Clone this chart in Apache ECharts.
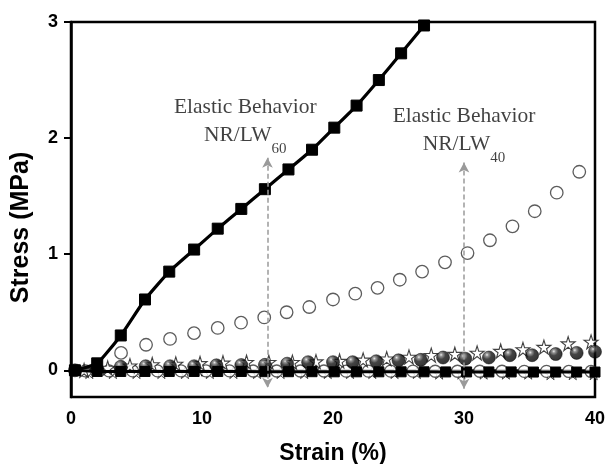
<!DOCTYPE html>
<html>
<head>
<meta charset="utf-8">
<script src="https://cdn.jsdelivr.net/npm/echarts@6/dist/echarts.min.js"></script>
<style>
  html, body { margin: 0; padding: 0; background: #fff; }
  #chart { width: 608px; height: 464px; }
</style>
</head>
<body>
<div id="chart"></div>
<script>
// ---- stress–strain data (strain in %, stress in MPa) ----
// NR/LW60: filled squares joined by a line
const sqRiseStrain = [0.3, 2.0, 3.8, 5.65, 7.5, 9.4, 11.2, 13.0, 14.8, 16.6, 18.4, 20.1, 21.8, 23.5, 25.2, 26.95];
const sqRiseStress = [0.0, 0.06, 0.30, 0.61, 0.85, 1.04, 1.22, 1.39, 1.56, 1.73, 1.90, 2.09, 2.28, 2.50, 2.73, 2.97];

// NR/LW40: open circles
const circRiseStrain = [3.82, 5.73, 7.56, 9.39, 11.2, 12.98, 14.75, 16.46, 18.19, 20.0, 21.7, 23.4, 25.1, 26.8, 28.55, 30.27, 31.98, 33.7, 35.4, 37.08, 38.8];
const circRiseStress = [0.15, 0.22, 0.27, 0.32, 0.365, 0.41, 0.455, 0.50, 0.545, 0.61, 0.66, 0.71, 0.78, 0.85, 0.93, 1.01, 1.12, 1.24, 1.37, 1.53, 1.71];

// shaded spheres
const ballStrain = [0.3, 2.0, 3.8, 5.7, 7.56, 9.4, 11.1, 13.0, 14.8, 16.5, 18.1, 20.0, 21.5, 23.3, 25.0, 26.7, 28.4, 30.1, 31.9, 33.5, 35.2, 37.0, 38.6, 40.0];
const ballStress = [0.0, 0.01, 0.03, 0.035, 0.035, 0.035, 0.043, 0.045, 0.047, 0.057, 0.07, 0.07, 0.07, 0.078, 0.086, 0.09, 0.11, 0.10, 0.11, 0.13, 0.13, 0.14, 0.15, 0.16];

// open stars
const starRiseStrain = [1.0, 2.8, 4.5, 6.2, 8.0, 9.85, 11.6, 13.4, 15.1, 16.9, 18.7, 20.5, 22.3, 24.1, 25.8, 27.5, 29.3, 31.0, 32.8, 34.5, 36.1, 37.95, 39.7];
const starRiseStress = [0.0, 0.02, 0.04, 0.05, 0.055, 0.06, 0.065, 0.07, 0.07, 0.07, 0.075, 0.08, 0.09, 0.10, 0.115, 0.13, 0.14, 0.15, 0.166, 0.18, 0.20, 0.23, 0.245];

// samples that stay at the baseline
const sqFlatStrain = [0.3, 2.0, 3.8, 5.65, 7.5, 9.4, 11.2, 13.0, 14.8, 16.6, 18.4, 20.1, 21.8, 23.5, 25.2, 26.95, 28.6, 30.2, 31.9, 33.6, 35.3, 37.0, 38.6, 40.0];
const sqFlatStress = [0.0, -0.01, -0.01, -0.01, -0.01, -0.01, -0.01, -0.01, -0.012, -0.012, -0.012, -0.013, -0.013, -0.013, -0.013, -0.013, -0.014, -0.014, -0.014, -0.014, -0.015, -0.015, -0.015, -0.015];
const circFlatStrain = [1.1, 2.9, 4.7, 6.6, 8.4, 10.3, 12.1, 13.9, 15.7, 17.5, 19.3, 21.0, 22.7, 24.4, 26.1, 27.8, 29.5, 31.2, 32.9, 34.6, 36.3, 38.0, 39.7];
const circFlatStress = [-0.005, -0.005, -0.005, -0.005, -0.005, -0.005, -0.005, -0.006, -0.006, -0.006, -0.006, -0.007, -0.007, -0.007, -0.007, -0.008, -0.008, -0.008, -0.008, -0.009, -0.009, -0.01, -0.01];
const starFlatStrain = [1.4, 3.2, 5.0, 6.9, 8.7, 10.6, 12.4, 14.2, 16.0, 17.8, 19.6, 21.3, 23.0, 24.7, 26.4, 28.1, 29.8, 31.5, 33.2, 34.9, 36.6, 38.3, 39.9];
const starFlatStress = [-0.02, -0.02, -0.02, -0.02, -0.02, -0.02, -0.02, -0.02, -0.02, -0.02, -0.02, -0.02, -0.02, -0.02, -0.02, -0.025, -0.025, -0.025, -0.025, -0.025, -0.03, -0.03, -0.03];

// annotations: elastic-limit arrows and their captions
const arrowStrain = [15, 30];
const arrowTop = [1.83, 1.79];
const arrowBottom = [-0.15, -0.16];
const noteStrain = [13.3, 30];
const noteStress = [2.13, 2.05];
const noteSub = ['60', '40'];

// axis ticks
const xTicks = [0, 10, 20, 30, 40];
const yTicks = [0, 1, 2, 3];

const zip = (xs, ys) => xs.map((x, i) => [x, ys[i]]);

const starPath = 'path://M50,3 L61,38 L98,38 L68,60 L79,95 L50,73 L21,95 L32,60 L2,38 L39,38 Z';
const ballFill = {
  type: 'radial', x: 0.36, y: 0.3, r: 0.72,
  colorStops: [
    { offset: 0, color: '#e8e8e8' },
    { offset: 0.16, color: '#7a7a7a' },
    { offset: 0.45, color: '#151515' },
    { offset: 1, color: '#000' }
  ]
};

const serif = 'Liberation Serif';
const sans = 'Liberation Sans';
const noteColor = '#111';

const chart = echarts.init(document.getElementById('chart'), null, { renderer: 'canvas' });

chart.setOption({
  animation: false,
  backgroundColor: '#fff',
  grid: {
    left: 71, right: 13, top: 22, bottom: 67,
    outerBoundsMode: 'none', containLabel: false,
    show: true, borderColor: '#000', borderWidth: 2.5, backgroundColor: 'transparent'
  },
  xAxis: {
    type: 'value', min: 0, max: 40, interval: 10,
    name: 'Strain (%)', nameLocation: 'middle', nameGap: 45,
    nameTextStyle: { fontFamily: sans, fontWeight: 'bold', fontSize: 23, color: '#000' },
    axisLine: { show: true, lineStyle: { color: '#000', width: 2.5 } },
    axisTick: { show: true, inside: false, length: 6, lineStyle: { color: '#000', width: 2 }, customValues: xTicks },
    axisLabel: { margin: 13, fontFamily: sans, fontWeight: 'bold', fontSize: 18, color: '#000', customValues: xTicks },
    splitLine: { show: false }
  },
  yAxis: {
    type: 'value', min: -0.23, max: 3,
    name: 'Stress (MPa)', nameLocation: 'middle', nameGap: 37, nameRotate: 90,
    nameTextStyle: { fontFamily: sans, fontWeight: 'bold', fontSize: 25, color: '#000', padding: [0, 36, 0, 0] },
    axisLine: { show: true, onZero: false, lineStyle: { color: '#000', width: 2.5 } },
    axisTick: { show: true, inside: false, length: 7, lineStyle: { color: '#000', width: 2 }, customValues: yTicks },
    axisLabel: { margin: 13, fontFamily: sans, fontWeight: 'bold', fontSize: 18, color: '#000', customValues: yTicks },
    splitLine: { show: false }
  },
  series: [
    {
      name: 'flat stars', type: 'scatter', data: zip(starFlatStrain, starFlatStress),
      symbol: starPath, symbolSize: 12,
      itemStyle: { color: '#fff', borderColor: '#222', borderWidth: 1 }
    },
    {
      name: 'flat circles', type: 'scatter', data: zip(circFlatStrain, circFlatStress),
      symbol: 'circle', symbolSize: 12,
      itemStyle: { color: '#fff', borderColor: '#333', borderWidth: 1.3 }
    },
    {
      name: 'flat squares', type: 'line', data: zip(sqFlatStrain, sqFlatStress),
      symbol: 'rect', symbolSize: 10, showAllSymbol: true,
      lineStyle: { color: '#000', width: 3 },
      itemStyle: { color: '#000', borderColor: '#000' }
    },
    {
      name: 'stars', type: 'scatter', data: zip(starRiseStrain, starRiseStress),
      symbol: starPath, symbolSize: 14,
      itemStyle: { color: '#fff', borderColor: '#111', borderWidth: 1.1 }
    },
    {
      name: 'spheres', type: 'scatter', data: zip(ballStrain, ballStress),
      symbol: 'circle', symbolSize: 13,
      itemStyle: { color: ballFill, borderColor: '#000', borderWidth: 0.6 }
    },
    {
      name: 'NR/LW40', type: 'scatter', data: zip(circRiseStrain, circRiseStress),
      symbol: 'circle', symbolSize: 12.5,
      itemStyle: { color: '#fff', borderColor: '#333', borderWidth: 1.3 },
      markLine: {
        silent: true,
        symbol: ['arrow', 'arrow'], symbolSize: [8, 10],
        label: { show: false },
        lineStyle: { type: [5, 3], color: '#9a9a9a', width: 1.5 },
        itemStyle: { color: '#9a9a9a' },
        data: arrowStrain.map((x, i) => [
          { coord: [x, arrowTop[i]] },
          { coord: [x, arrowBottom[i]] }
        ])
      }
    },
    {
      name: 'NR/LW60', type: 'line', data: zip(sqRiseStrain, sqRiseStress),
      symbol: 'rect', symbolSize: 11, showAllSymbol: true, smooth: 0.15,
      lineStyle: { color: '#000', width: 3.2 },
      itemStyle: { color: '#000', borderColor: '#000' }
    },
    {
      name: 'notes', type: 'scatter', silent: true,
      data: noteStrain.map((x, i) => ({ value: [x, noteStress[i]], sub: noteSub[i] })),
      symbolSize: 1, itemStyle: { color: 'rgba(0,0,0,0)' },
      label: {
        show: true, position: 'inside', align: 'center', verticalAlign: 'middle',
        formatter: p => '{a|Elastic Behavior}\n{b|NR/LW}{s|' + p.data.sub + '}',
        rich: {
          a: { fontFamily: serif, fontSize: 21.5, color: noteColor, lineHeight: 28, verticalAlign: 'top' },
          b: { fontFamily: serif, fontSize: 21.5, color: noteColor, lineHeight: 26, verticalAlign: 'top' },
          s: { fontFamily: serif, fontSize: 15, color: noteColor, lineHeight: 16, verticalAlign: 'top', padding: [17.5, 0, 0, 0] }
        }
      }
    }
  ]
});
</script>
</body>
</html>
